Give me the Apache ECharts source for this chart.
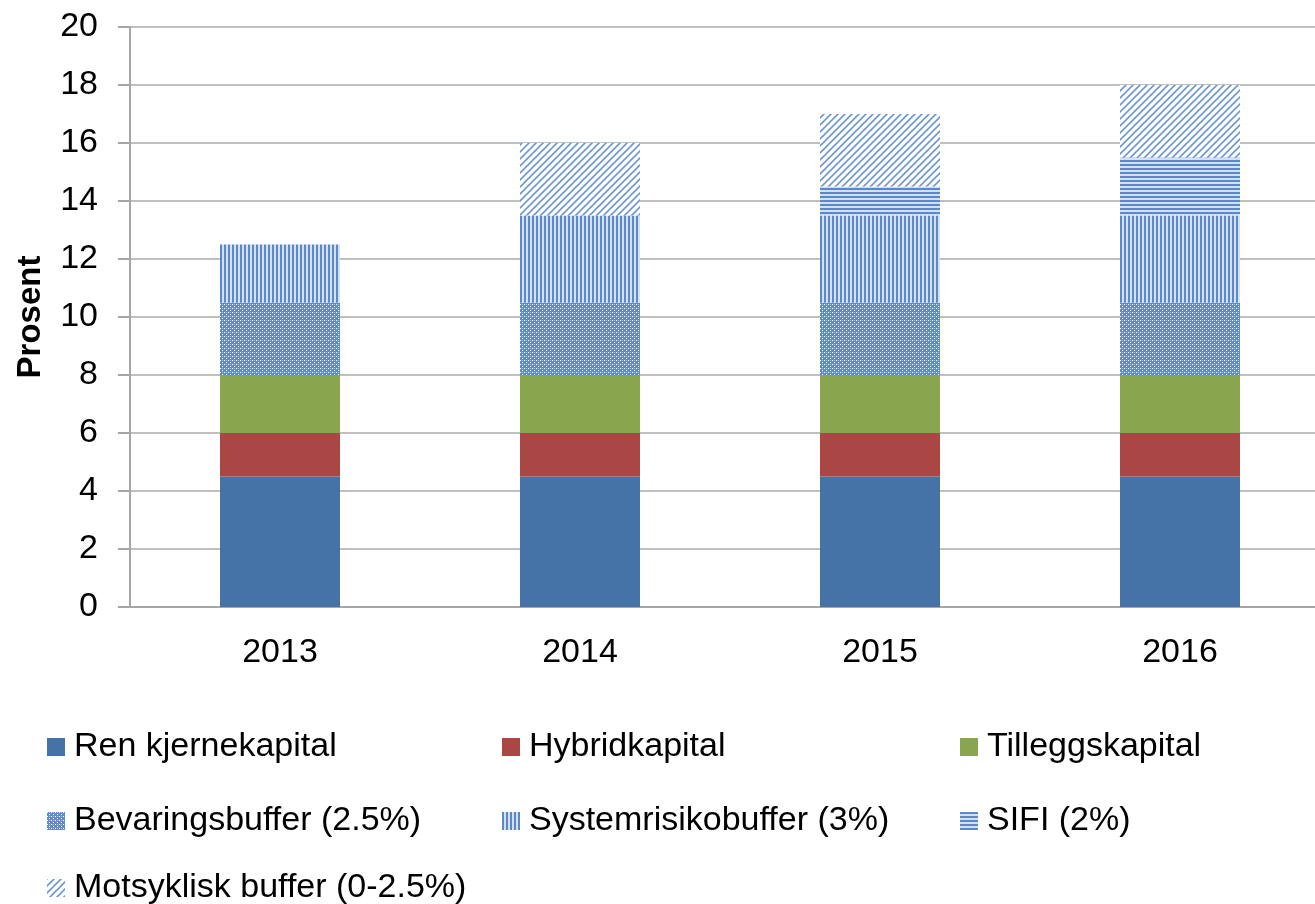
<!DOCTYPE html>
<html>
<head>
<meta charset="utf-8">
<script src="https://cdn.jsdelivr.net/npm/echarts@6/dist/echarts.min.js"></script>
<style>
html,body{margin:0;padding:0;background:#fff;overflow:hidden;}
#chart{width:1330px;height:904px;}
</style>
</head>
<body>
<div id="chart"></div>
<script>
// ---- data ----
const categories = ['2013', '2014', '2015', '2016'];
const seriesNames = ['Ren kjernekapital', 'Hybridkapital', 'Tilleggskapital',
  'Bevaringsbuffer (2.5%)', 'Systemrisikobuffer (3%)', 'SIFI (2%)', 'Motsyklisk buffer (0-2.5%)'];
const renKjernekapital = [4.5, 4.5, 4.5, 4.5];
const hybridkapital = [1.5, 1.5, 1.5, 1.5];
const tilleggskapital = [2, 2, 2, 2];
const bevaringsbuffer = [2.5, 2.5, 2.5, 2.5];
const systemrisikobuffer = [2, 3, 3, 3];
const sifi = [0, 0, 1, 2];
const motsykliskBuffer = [0, 2.5, 2.5, 2.5];
const yTicks = { min: 0, max: 20, interval: 2 };

// ---- patterns ----
function makeTile(w, h, draw) {
  const c = document.createElement('canvas');
  c.width = w; c.height = h;
  const ctx = c.getContext('2d');
  draw(ctx, w, h);
  return { image: c, repeat: 'repeat' };
}
const LIGHT = '#D3E0F2';
const patDots = makeTile(4, 4, (ctx, w, h) => {
  ctx.fillStyle = '#5B8BD2'; ctx.fillRect(0, 0, w, h);
  ctx.fillStyle = '#FFFFFF';
  ctx.fillRect(0, 0, 1, 1);
  ctx.fillRect(2, 2, 1, 1);
  ctx.fillStyle = '#A9C2E8';
  ctx.fillRect(2, 0, 1, 1);
});
const patVert = makeTile(4, 4, (ctx, w, h) => {
  ctx.fillStyle = LIGHT; ctx.fillRect(0, 0, w, h);
  ctx.fillStyle = '#5A88C8'; ctx.fillRect(0, 0, 2, h);
});
const patHorz = makeTile(4, 4, (ctx, w, h) => {
  ctx.fillStyle = LIGHT; ctx.fillRect(0, 0, w, h);
  ctx.fillStyle = '#5A88C8'; ctx.fillRect(0, 0, w, 2);
});
const patDiag = makeTile(7, 7, (ctx, w, h) => {
  ctx.fillStyle = '#FFFFFF'; ctx.fillRect(0, 0, w, h);
  ctx.strokeStyle = '#6D98D2'; ctx.lineWidth = 1.6;
  ctx.beginPath();
  ctx.moveTo(-1, h + 1); ctx.lineTo(w + 1, -1);
  ctx.moveTo(-1, 1); ctx.lineTo(1, -1);
  ctx.moveTo(w - 1, h + 1); ctx.lineTo(w + 1, h - 1);
  ctx.stroke();
});

const fills = ['#4572A7', '#AA4643', '#89A54E', patDots, patVert, patHorz, patDiag];
const values = [renKjernekapital, hybridkapital, tilleggskapital, bevaringsbuffer,
  systemrisikobuffer, sifi, motsykliskBuffer];

const FONT = 'Liberation Sans, Arial, sans-serif';
const FS = 34;

const series = seriesNames.map((name, i) => ({
  name: name,
  type: 'bar',
  stack: 'total',
  barWidth: '40%',
  data: values[i],
  itemStyle: { color: fills[i] },
  emphasis: { disabled: true },
  animation: false
}));

// legend layout positions
const legendPos = [
  [47, 0], [502, 0], [960, 0],
  [47, 1], [502, 1], [960, 1],
  [47, 2]
];
const rowTops = [730, 804, 871];
const legends = seriesNames.map((name, i) => ({
  data: [name],
  left: legendPos[i][0],
  top: rowTops[legendPos[i][1]],
  padding: 0,
  itemWidth: 18,
  itemHeight: 18,
  icon: 'rect',
  selectedMode: false,
  textStyle: { fontFamily: FONT, fontSize: FS, color: '#000', padding: [0, 0, 0, 4] }
}));

const chart = echarts.init(document.getElementById('chart'), null, { renderer: 'canvas' });
chart.setOption({
  animation: false,
  backgroundColor: '#fff',
  grid: { left: 130, top: 27, width: 1200, height: 580, containLabel: false },
  legend: legends,
  xAxis: {
    type: 'category',
    data: categories,
    axisLine: { show: true, lineStyle: { color: '#A6A6A6', width: 2 } },
    axisTick: { show: false },
    axisLabel: { fontFamily: FONT, fontSize: FS, color: '#000', margin: 29 },
    splitLine: { show: false }
  },
  yAxis: {
    type: 'value',
    min: yTicks.min,
    max: yTicks.max,
    interval: yTicks.interval,
    name: 'Prosent',
    nameLocation: 'middle',
    nameRotate: 90,
    nameGap: 83,
    nameTextStyle: { fontFamily: FONT, fontSize: 33, fontWeight: 'bold', color: '#000' },
    axisLine: { show: true, lineStyle: { color: '#A6A6A6', width: 2 } },
    axisTick: { show: true, length: 12, lineStyle: { color: '#A6A6A6', width: 2 } },
    axisLabel: { fontFamily: FONT, fontSize: FS, color: '#000', margin: 32 },
    splitLine: { show: true, lineStyle: { color: '#BFBFBF', width: 2 } }
  },
  series: series
});
</script>
</body>
</html>
